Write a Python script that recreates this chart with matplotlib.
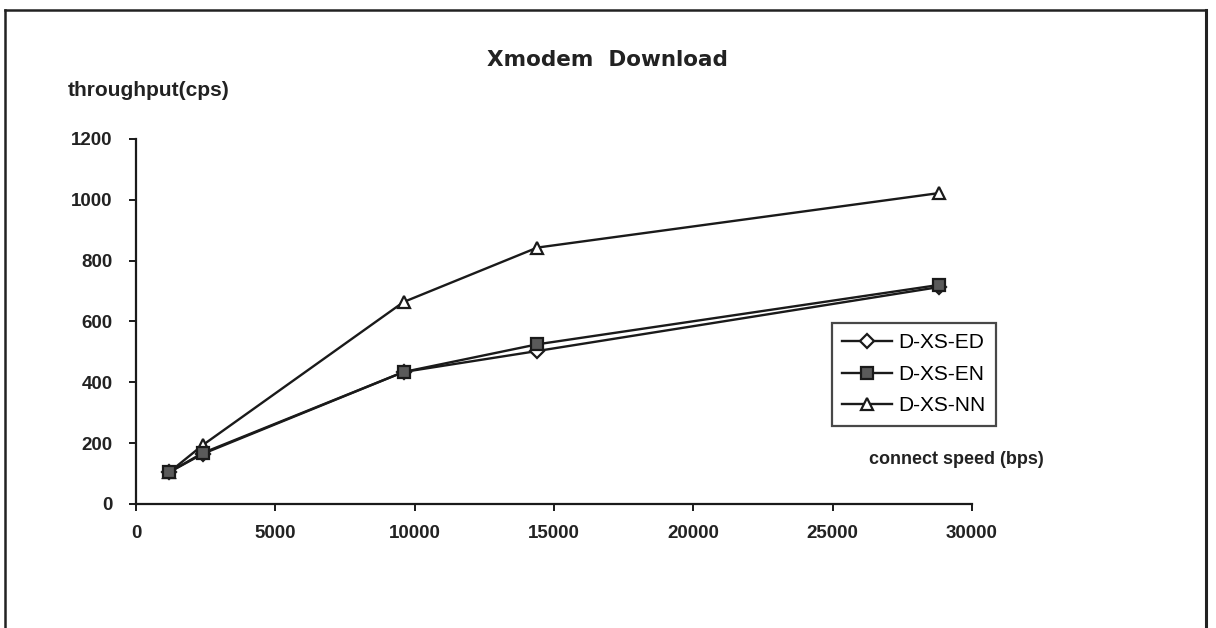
import matplotlib
matplotlib.use("Agg")
import matplotlib.pyplot as plt
from matplotlib.lines import Line2D

speeds = [1200, 2400, 9600, 14400, 28800]
ed_values = [105, 165, 434, 503, 713]
en_values = [105, 168, 434, 525, 720]
nn_values = [105, 194, 664, 843, 1022]
series_names = ["D-XS-ED", "D-XS-EN", "D-XS-NN"]
x_ticks = [0, 5000, 10000, 15000, 20000, 25000, 30000]
y_ticks = [0, 200, 400, 600, 800, 1000, 1200]

plt.rcParams['font.family'] = ['Liberation Sans', 'DejaVu Sans']

W, H = 1216, 628
fig = plt.figure(figsize=(W / 100, H / 100), dpi=100)
fig.patch.set_facecolor('white')

ax = fig.add_axes([136 / W, 124 / H, 836 / W, 365 / H])

ax.plot(speeds, ed_values, color='#1a1a1a', lw=1.7, marker='D', ms=7,
        mfc='white', mec='#1a1a1a', mew=1.6, label=series_names[0], zorder=3)
ax.plot(speeds, en_values, color='#1a1a1a', lw=1.7, marker='s', ms=8.5,
        mfc='#5a5a5a', mec='#1a1a1a', mew=1.6, label=series_names[1], zorder=4)
ax.plot(speeds, nn_values, color='#1a1a1a', lw=1.7, marker='^', ms=9,
        mfc='white', mec='#1a1a1a', mew=1.6, label=series_names[2], zorder=3)

ax.set_xlim(0, 30000)
ax.set_ylim(0, 1200)
ax.set_xticks(x_ticks)
ax.set_yticks(y_ticks)
for s in ['top', 'right']:
    ax.spines[s].set_visible(False)
for s in ['left', 'bottom']:
    ax.spines[s].set_linewidth(1.6)
    ax.spines[s].set_color('#1a1a1a')
ax.tick_params(axis='both', direction='out', length=5, width=1.4,
               colors='#1a1a1a', labelsize=13.5)
ax.tick_params(axis='x', pad=10)
ax.tick_params(axis='y', pad=12)
for lab in ax.get_xticklabels() + ax.get_yticklabels():
    lab.set_fontweight('bold')
    lab.set_color('#222222')

leg = ax.legend(loc='upper left', bbox_to_anchor=((832 - 136) / 836, (504 - 323) / 365),
                frameon=True, fancybox=False, edgecolor='#1a1a1a',
                fontsize=15, handlelength=2.4, handletextpad=0.3,
                labelspacing=0.6, borderpad=0.5, borderaxespad=0)
leg.get_frame().set_linewidth(1.6)

fig.text(607 / W, 1 - 60 / H, "Xmodem  Download", ha='center', va='center',
         fontsize=15.5, fontweight='bold', family='DejaVu Sans', color='#222222')
fig.text(68 / W, 1 - 90 / H, "throughput(cps)", ha='left', va='center',
         fontsize=15, fontweight='bold', color='#222222')
fig.text(869 / W, 1 - 459 / H, "connect speed (bps)", ha='left', va='center',
         fontsize=13, fontweight='bold', color='#222222')

# outer frame (open at the bottom)
fig.add_artist(Line2D([5 / W, 5 / W], [0, 1 - 10 / H], transform=fig.transFigure,
                      color='#222222', lw=1.8))
fig.add_artist(Line2D([5 / W, 1206 / W], [1 - 10 / H, 1 - 10 / H], transform=fig.transFigure,
                      color='#222222', lw=1.8))
fig.add_artist(Line2D([1206 / W, 1206 / W], [0, 1 - 10 / H], transform=fig.transFigure,
                      color='#222222', lw=2.2))

fig.savefig("out.png", dpi=100)
